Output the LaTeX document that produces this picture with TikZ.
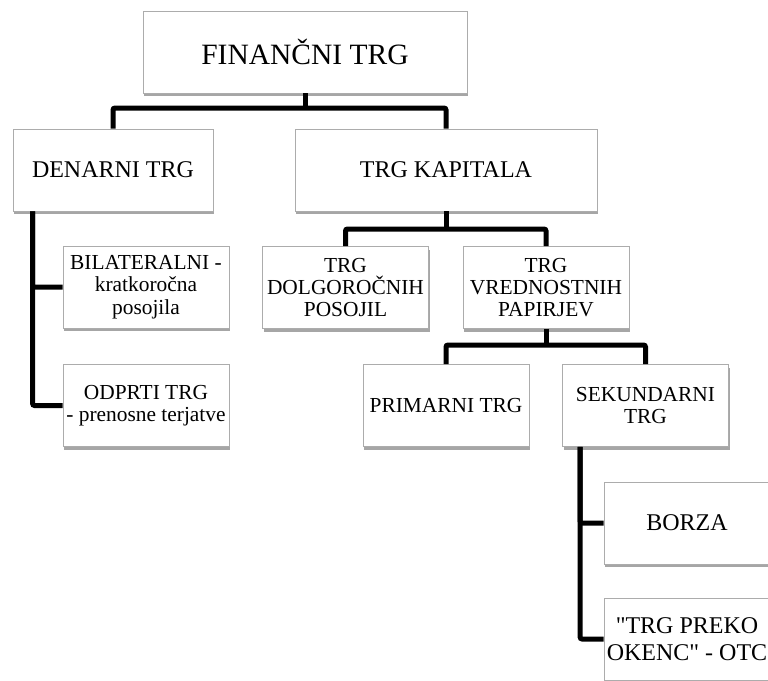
\documentclass[tikz,border=0pt]{standalone}
\usepackage{fontspec}
\newfontfamily\tnr{Liberation Serif}
\usetikzlibrary{shadows}

\tikzset{
    box/.style={draw=gray!65, line width=0.8pt, fill=white, align=center,
        minimum width=166pt, minimum height=82pt, inner sep=2pt,
        drop shadow={shadow xshift=1.2pt, shadow yshift=-3pt, opacity=0.35, fill=black},
        font=\tnr\fontsize{21.4}{22.3}\selectfont},
    bigbox/.style={box, font=\tnr\fontsize{24}{27.5}\selectfont},
    conn/.style={line width=5pt, rounded corners=2pt}
}

\begin{document}
\begin{tikzpicture}[x=1pt, y=-1pt]
    \useasboundingbox (0,0) rectangle (768,680);

    % Top level
    \node[box, minimum width=324pt, font=\tnr\fontsize{29.5}{33}\selectfont] (fin) at (305,52) {FINANČNI TRG};
    \node[bigbox, minimum width=200pt] (den) at (113,170) {DENARNI TRG};
    \node[bigbox, minimum width=302pt] (kap) at (446,170) {TRG KAPITALA};
    \coordinate (finj) at (305,108);
    \draw[conn] (fin.south) -- (finj);
    \draw[conn] (den.north) |- (finj) -| (kap.north);

    % Denarni trg
    \node[box] (bil) at (146,287) {BILATERALNI -\\kratkoročna\\posojila};
    \node[box] (odp) at (146,405.5) {ODPRTI TRG\\- prenosne terjatve};
    \coordinate (denj) at ([xshift=20pt]den.south west);
    \draw[conn] (denj) |- (bil.west);
    \draw[conn] (denj) |- (odp.west);

    % Trg kapitala
    \node[box] (dol) at (345.5,287.5) {TRG\\DOLGOROČNIH\\POSOJIL};
    \node[box] (vre) at (546,287.5) {TRG\\VREDNOSTNIH\\PAPIRJEV};
    \coordinate (kapj) at (446,229);
    \draw[conn] (kap.south) -- (kapj);
    \draw[conn] (dol.north) |- (kapj) -| (vre.north);

    % Trg vrednostnih papirjev
    \node[box] (pri) at (446,405.5) {PRIMARNI TRG};
    \node[box] (sek) at (645.5,405.5) {SEKUNDARNI\\TRG};
    \coordinate (vrej) at (546,345);
    \draw[conn] (vre.south) -- (vrej);
    \draw[conn] (pri.north) |- (vrej) -| (sek.north);

    % Sekundarni trg
    \node[bigbox] (bor) at (687,523) {BORZA};
    \node[bigbox] (otc) at (687,639) {"TRG PREKO\\OKENC" - OTC};
    \coordinate (sekj) at ([xshift=18pt]sek.south west);
    \draw[conn] (sekj) |- (bor.west);
    \draw[conn] (sekj) |- (otc.west);
\end{tikzpicture}
\end{document}
